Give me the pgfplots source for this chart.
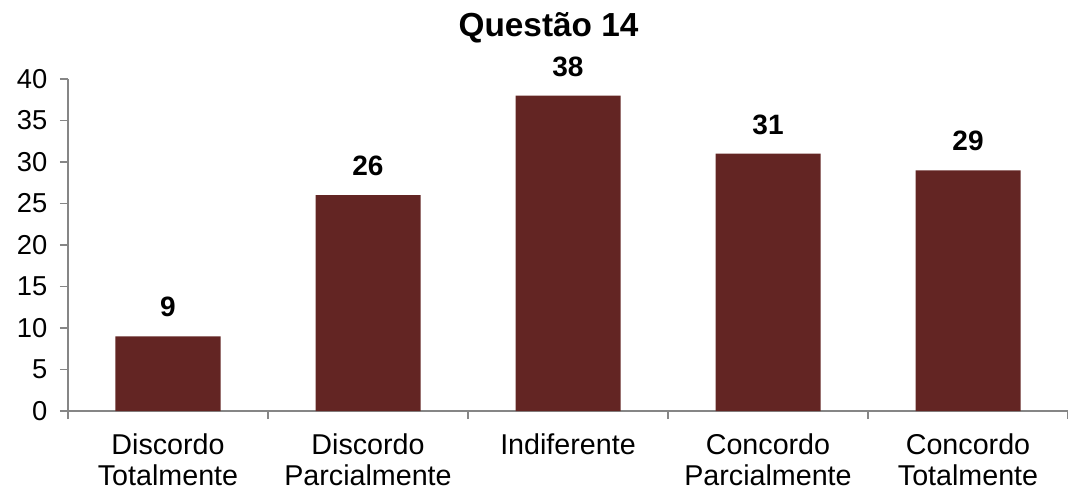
\documentclass[border=0pt]{standalone}
\usepackage{pgfplots}
\pgfplotsset{compat=1.18}
\usepackage{fontspec}
\setmainfont{Liberation Sans}

\definecolor{barred}{HTML}{632523}
\definecolor{axisgray}{HTML}{868686}

\begin{document}
\begin{tikzpicture}[x=0.75pt,y=0.75pt]
% fixed page frame; the plot area's lower-left corner sits at (0,0)
\path[use as bounding box] (-68,-82) rectangle (1000,411);
\begin{axis}[
  at={(0,0)}, anchor=south west,
  scale only axis,
  width=750pt, height=249pt,
  xmin=-0.5, xmax=4.5,
  ymin=0, ymax=40,
  ytick={0,5,...,40},
  xtick={-0.5,0.5,...,4.5},
  x tick label as interval,
  xticklabels={{Discordo\\Totalmente},{Discordo\\Parcialmente},{Indiferente},{Concordo\\Parcialmente},{Concordo\\Totalmente}},
  xticklabel style={align=center, font=\fontsize{21.5}{23}\selectfont, yshift=-7.5pt},
  yticklabel style={font=\fontsize{20.5}{22}\selectfont, xshift=-6pt},
  /pgf/number format/assume math mode=true,
  axis x line*=bottom, axis y line*=left,
  axis line style={axisgray, line width=0.9pt},
  tick style={axisgray, line width=0.9pt},
  tick align=outside,
  major tick length=6pt,
  ybar, bar width=78.75pt,
  nodes near coords,
  nodes near coords style={font=\bfseries\fontsize{21}{22}\selectfont, black, anchor=base, yshift=14.5pt},
  clip=false,
]
\addplot[fill=barred, draw=none] coordinates {(0,9) (1,26) (2,38) (3,31) (4,29)};
\end{axis}
\node[font=\bfseries\fontsize{25}{28}\selectfont, anchor=base] at (480.5,374) {Questão 14};
\end{tikzpicture}
\end{document}
